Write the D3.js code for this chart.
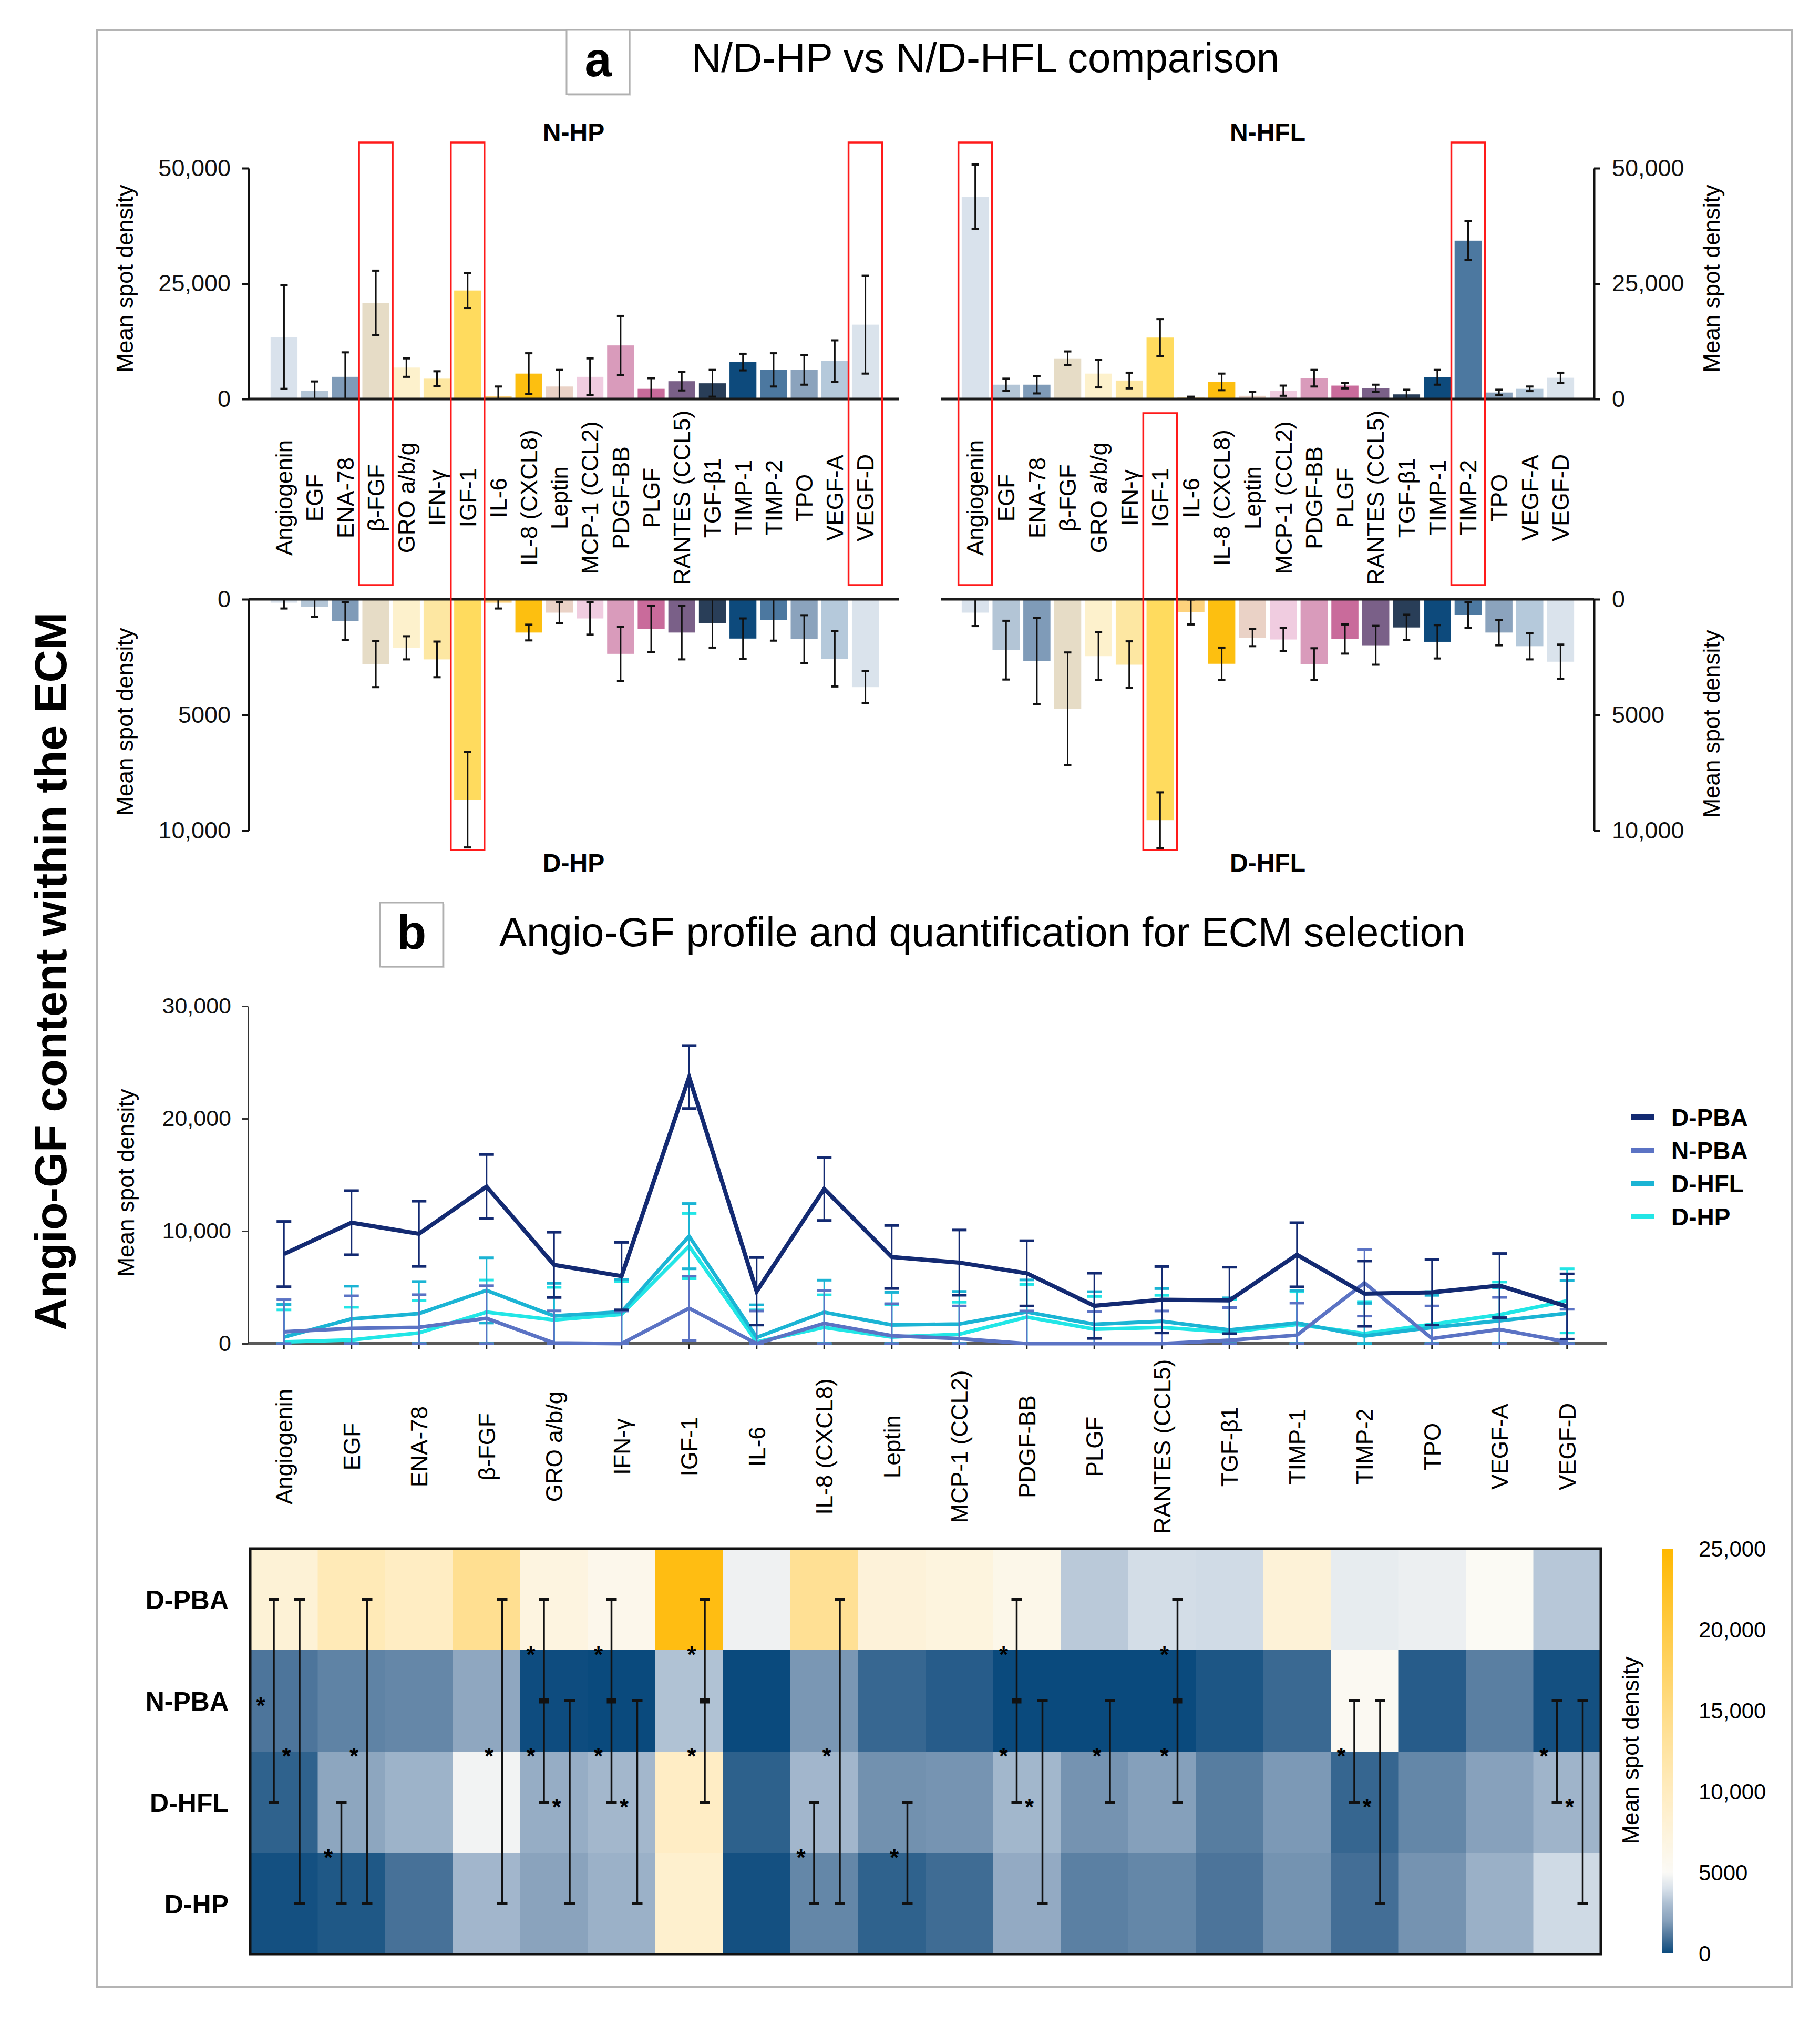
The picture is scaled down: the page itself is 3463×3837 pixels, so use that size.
<!DOCTYPE html>
<html>
<head>
<meta charset="utf-8">
<script src="https://cdn.jsdelivr.net/npm/d3@7"></script>
<style>
  body { margin: 0; background: #fff; }
  svg { display: block; }
  text { font-family: 'Liberation Sans', Arial, sans-serif; }
</style>
</head>
<body>
<div id="chart"></div>
<script>
// ---- data ----
var categories = ['Angiogenin', 'EGF', 'ENA-78', 'β-FGF', 'GRO a/b/g', 'IFN-γ', 'IGF-1', 'IL-6', 'IL-8 (CXCL8)', 'Leptin',
  'MCP-1 (CCL2)', 'PDGF-BB', 'PLGF', 'RANTES (CCL5)', 'TGF-β1', 'TIMP-1', 'TIMP-2', 'TPO', 'VEGF-A', 'VEGF-D']
var barColors = ['#d9e2ec', '#b3c5d6', '#7f9bb8', '#e6dcc6', '#fdf1cc', '#fde7a2', '#ffdb5e', '#fdd27c', '#fdbf10', '#ead2c6',
  '#f0cce0', '#d99bbb', '#c96b9b', '#7a6088', '#293e58', '#0d4a7c', '#4c78a0', '#8ba3bd', '#b5c9db', '#dae3ec']

var nHP = [13400, 1800, 4800, 20800, 6800, 4400, 23500, 600, 5500, 2700, 4800, 11600, 2200, 3850, 3400, 8000, 6300, 6300, 8200, 16100]
var nHPErr = [11200, 2000, 5300, 7000, 2000, 1600, 3800, 2100, 4400, 3600, 4000, 6400, 2300, 2000, 2900, 1800, 3600, 3200, 4500, 10600]
var nHFL = [43800, 3100, 3100, 8800, 5500, 4000, 13300, 300, 3700, 700, 1800, 4500, 2900, 2300, 1000, 4700, 34300, 1400, 2200, 4600]
var nHFLErr = [7000, 1300, 1900, 1500, 3000, 1700, 4000, 200, 1800, 800, 1100, 1800, 600, 800, 1000, 1600, 4200, 600, 500, 1100]
var dHP = [150, 330, 950, 2800, 2100, 2600, 8670, 150, 1440, 580, 830, 2360, 1290, 1440, 1030, 1700, 890, 1720, 2570, 3800]
var dHPErr = [250, 430, 820, 1000, 500, 770, 2060, 250, 340, 450, 700, 1170, 1000, 1160, 1060, 870, 900, 1030, 1200, 700]
var dHFL = [580, 2200, 2670, 4730, 2460, 2830, 9550, 550, 2790, 1660, 1740, 2810, 1720, 1990, 1220, 1840, 680, 1440, 2030, 2700]
var dHFLErr = [580, 1270, 1860, 2430, 1030, 1010, 1200, 540, 700, 370, 500, 690, 630, 840, 550, 720, 550, 550, 570, 740]

var dPBA = [7960, 10750, 9760, 13960, 7000, 6000, 23700, 4650, 13750, 7700, 7200, 6250, 3360, 3900, 3840, 7900, 4440, 4560, 5160, 3300]
var nPBA = [1050, 1350, 1450, 2250, 60, 0, 3150, 0, 1800, 700, 450, 0, 0, 0, 300, 750, 5400, 450, 1260, 150]
var dPBALineErr = [2900, 2850, 2900, 2850, 2900, 3000, 2800, 3000, 2800, 2800, 2900, 2900, 2900, 2950, 2950, 2850, 2900, 2900, 2850, 2900]
var nPBALineErr = [2850, 2900, 2900, 2900, 2850, 2900, 2850, 2900, 2900, 2850, 2900, 2900, 2850, 2900, 2900, 2850, 2950, 2900, 2850, 2900]
var dHFLLineErr = [2900, 2900, 2850, 2900, 2900, 2850, 2900, 2900, 2850, 2900, 2900, 2850, 2900, 2900, 2850, 2900, 2900, 2850, 2900, 2900]
var dHPLineErr = [2850, 2900, 2900, 2850, 2900, 2900, 2900, 2850, 2900, 2900, 2850, 2900, 2900, 2850, 2900, 2900, 2850, 2900, 2900, 2850]

var lineNames = ['D-PBA', 'N-PBA', 'D-HFL', 'D-HP']
var lineColors = ['#132a72', '#5b73c4', '#1bb4d4', '#22e6e6']

var topTicks = [0, 25000, 50000]
var topTickLabels = ['0', '25,000', '50,000']
var bottomTicks = [0, 5000, 10000]
var bottomTickLabels = ['0', '5000', '10,000']
var lineTicks = [0, 10000, 20000, 30000]
var lineTickLabels = ['0', '10,000', '20,000', '30,000']
var heatTicks = [0, 5000, 10000, 15000, 20000, 25000]
var heatTickLabels = ['0', '5000', '10,000', '15,000', '20,000', '25,000']
var heatStops = [0, 1000, 2000, 3000, 4000, 5000, 10000, 15000, 20000, 25000]
var heatStopColors = ['#0a4a7d', '#4a7399', '#86a0bb', '#a9bcd0', '#d8e1ea', '#fbfaf6', '#ffecc0', '#ffdc85', '#ffcb45', '#ffb800']

// significance brackets: column, slot, from row, to row, middle cap
var sigCol = [0, 0, 1, 1, 3, 4, 4, 5, 5, 6, 8, 8, 9, 11, 11, 12, 13, 16, 16, 19, 19]
var sigSlot = [0, 1, 0, 1, 1, 0, 1, 0, 1, 1, 0, 1, 1, 0, 1, 1, 1, 0, 1, 0, 1]
var sigFrom = [0, 0, 2, 0, 0, 0, 1, 0, 1, 0, 2, 0, 2, 0, 1, 1, 0, 1, 1, 1, 1]
var sigTo = [2, 3, 3, 3, 3, 2, 3, 2, 3, 2, 3, 3, 3, 2, 3, 2, 2, 2, 3, 2, 3]
var sigMid = [0, 0, 0, 0, 0, 1, 0, 1, 0, 1, 0, 0, 0, 1, 0, 0, 1, 0, 0, 0, 0]
// asterisks: column, slot, vertical position in row units
var starCol = [0, 0, 1, 1, 3, 4, 4, 4, 5, 5, 5, 6, 6, 8, 8, 9, 11, 11, 11, 12, 13, 13, 16, 16, 19, 19]
var starSlot = [0, 1, 0, 1, 1, 0, 0, 1, 0, 0, 1, 1, 1, 0, 1, 1, 0, 0, 1, 1, 1, 1, 0, 1, 0, 1]
var starRow = [1.5, 2, 3, 2, 2, 1, 2, 2.5, 1, 2, 2.5, 1, 2, 3, 2, 3, 1, 2, 2.5, 2, 1, 2, 2, 2.5, 2, 2.5]

// ---- page ----
var W = 3463, H = 3837
var FONT = "'Liberation Sans', Arial, sans-serif"
var svg = d3.select('#chart').append('svg').attr('width', W).attr('height', H)
svg.append('rect').attr('width', W).attr('height', H).attr('fill', '#fff')
svg.append('rect').attr('x', 184).attr('y', 57).attr('width', 3226).attr('height', 3723)
  .attr('fill', 'none').attr('stroke', '#b4b4b4').attr('stroke-width', 4)

svg.append('text').attr('transform', 'translate(126,1848) rotate(-90)')
  .attr('text-anchor', 'middle').style('font-size', '86px').style('font-weight', 'bold')
  .text('Angio-GF content within the ECM')

function sectionHead (letter, bx, by, tx, ty, label) {
  svg.append('rect').attr('x', bx + 3).attr('y', by + 3).attr('width', 120).attr('height', 122).attr('fill', '#e4e4e4')
  svg.append('rect').attr('x', bx).attr('y', by).attr('width', 120).attr('height', 122)
    .attr('fill', '#fff').attr('stroke', '#b0b0b0').attr('stroke-width', 3)
  svg.append('text').attr('x', bx + 60).attr('y', by + 88).attr('text-anchor', 'middle')
    .style('font-size', '92px').style('font-weight', 'bold').text(letter)
  svg.append('text').attr('x', tx).attr('y', ty).style('font-size', '78px').text(label)
}
sectionHead('a', 1078, 57, 1316, 137, 'N/D-HP vs N/D-HFL comparison')
sectionHead('b', 723, 1717, 950, 1800, 'Angio-GF profile and quantification for ECM selection')

function styleAxis (ag, size) {
  ag.attr('font-family', FONT).attr('font-size', size)
  ag.select('.domain').attr('stroke', '#111').attr('stroke-width', 4)
  ag.selectAll('.tick line').attr('stroke', '#111').attr('stroke-width', 4)
  ag.selectAll('.tick text').attr('fill', '#111')
}

function axisTitle (x, y, size) {
  svg.append('text').attr('transform', 'translate(' + x + ',' + y + ') rotate(-90)')
    .attr('text-anchor', 'middle').style('font-size', size + 'px').text('Mean spot density')
}

// one bar panel of part a
function barPanel (vals, errs, xr, yr, ymax, axisX, side, lineX, ticks, tickLabels, title, titleY) {
  var x = d3.scaleBand().domain(categories).range(xr).paddingInner(0.12).paddingOuter(0.1)
  var y = d3.scaleLinear().domain([0, ymax]).range(yr)
  var g = svg.append('g')
  g.selectAll('rect.bar').data(vals).enter().append('rect')
    .attr('x', function (d, i) { return x(categories[i]) })
    .attr('y', function (d) { return Math.min(y(0), y(d)) })
    .attr('width', x.bandwidth())
    .attr('height', function (d) { return Math.abs(y(d) - y(0)) })
    .attr('fill', function (d, i) { return barColors[i] })

  vals.forEach(function (v, i) {
    var cx = x(categories[i]) + x.bandwidth() / 2
    var lo = y(Math.max(0, v - errs[i])), hi = y(v + errs[i])
    g.append('line').attr('x1', cx).attr('x2', cx).attr('y1', lo).attr('y2', hi)
      .attr('stroke', '#111').attr('stroke-width', 3)
    ;[lo, hi].forEach(function (yy) {
      g.append('line').attr('x1', cx - 7).attr('x2', cx + 7).attr('y1', yy).attr('y2', yy)
        .attr('stroke', '#111').attr('stroke-width', 4)
    })
  })

  g.append('line').attr('x1', lineX[0]).attr('x2', lineX[1]).attr('y1', y(0)).attr('y2', y(0))
    .attr('stroke', '#1a1a1a').attr('stroke-width', 5)

  var axis = side === 'left' ? d3.axisLeft(y) : d3.axisRight(y)
  axis.tickValues(ticks).tickFormat(function (d, i) { return tickLabels[i] }).tickSize(12).tickSizeOuter(0).tickPadding(22)
  var ag = g.append('g').attr('transform', 'translate(' + axisX + ',0)').call(axis)
  styleAxis(ag, 45)

  svg.append('text').attr('x', (lineX[0] + lineX[1]) / 2).attr('y', titleY)
    .attr('text-anchor', 'middle').style('font-size', '48px').style('font-weight', 'bold').text(title)
  return x
}

var xL = barPanel(nHP, nHPErr, [509, 1678], [759, 320], 50000, 473, 'left', [473, 1710], topTicks, topTickLabels, 'N-HP', 268)
var xR = barPanel(nHFL, nHFLErr, [1824, 3001], [759, 320], 50000, 3033, 'right', [1791, 3033], topTicks, topTickLabels, 'N-HFL', 268)
barPanel(dHP, dHPErr, [509, 1678], [1140, 1580], 10000, 473, 'left', [473, 1710], bottomTicks, bottomTickLabels, 'D-HP', 1658)
barPanel(dHFL, dHFLErr, [1824, 3001], [1140, 1580], 10000, 3033, 'right', [1791, 3033], bottomTicks, bottomTickLabels, 'D-HFL', 1658)

axisTitle(253, 530, 44)
axisTitle(3272, 530, 44)
axisTitle(253, 1373, 44)
axisTitle(3272, 1377, 44)

function catLabels (x, cy) {
  categories.forEach(function (c) {
    var cx = x(c) + x.bandwidth() / 2
    svg.append('text').attr('transform', 'translate(' + cx + ',' + cy + ') rotate(-90)')
      .attr('text-anchor', 'middle').attr('dy', '0.36em').style('font-size', '44px').text(c)
  })
}
catLabels(xL, 947)
catLabels(xR, 947)

// red highlight boxes
function redBox (x, cat, y0, y1) {
  svg.append('rect').attr('x', x(cat) + x.bandwidth() / 2 - 32).attr('y', y0)
    .attr('width', 64).attr('height', y1 - y0)
    .attr('fill', 'none').attr('stroke', '#ff1a1a').attr('stroke-width', 3.5)
}
redBox(xL, 'β-FGF', 271, 1113)
redBox(xL, 'IGF-1', 271, 1617)
redBox(xL, 'VEGF-D', 271, 1113)
redBox(xR, 'Angiogenin', 271, 1113)
redBox(xR, 'TIMP-2', 271, 1113)
redBox(xR, 'IGF-1', 786, 1617)

// ---- part b: line chart ----
var xl = d3.scaleBand().domain(categories).range([476, 3046])
var yl = d3.scaleLinear().domain([0, 30000]).range([2556, 1914])
var cxl = function (i) { return xl(categories[i]) + xl.bandwidth() / 2 }

svg.append('line').attr('x1', 472).attr('x2', 3057).attr('y1', yl(0)).attr('y2', yl(0))
  .attr('stroke', '#5a5a5a').attr('stroke-width', 6)
categories.forEach(function (c, i) {
  svg.append('line').attr('x1', cxl(i)).attr('x2', cxl(i)).attr('y1', yl(0)).attr('y2', yl(0) + 10)
    .attr('stroke', '#222').attr('stroke-width', 3)
})
var lag = svg.append('g').attr('transform', 'translate(472,0)')
  .call(d3.axisLeft(yl).tickValues(lineTicks).tickFormat(function (d, i) { return lineTickLabels[i] })
    .tickSize(12).tickSizeOuter(0).tickPadding(20))
styleAxis(lag, 43)
lag.select('.domain').attr('stroke', '#333').attr('stroke-width', 3)
lag.selectAll('.tick line').attr('stroke', '#333').attr('stroke-width', 3)
axisTitle(255, 2250, 44)

var lineVals = [dPBA, nPBA, dHFL, dHP]
var lineErrs = [dPBALineErr, nPBALineErr, dHFLLineErr, dHPLineErr]
var line = d3.line().x(function (d, i) { return cxl(i) }).y(function (d) { return yl(d) })

;[3, 2, 1, 0].forEach(function (s) {
  var g = svg.append('g')
  lineVals[s].forEach(function (v, i) {
    var lo = yl(Math.max(0, v - lineErrs[s][i])), hi = yl(v + lineErrs[s][i])
    g.append('line').attr('x1', cxl(i)).attr('x2', cxl(i)).attr('y1', lo).attr('y2', hi)
      .attr('stroke', lineColors[s]).attr('stroke-width', 3)
    ;[lo, hi].forEach(function (yy) {
      g.append('line').attr('x1', cxl(i) - 14).attr('x2', cxl(i) + 14).attr('y1', yy).attr('y2', yy)
        .attr('stroke', lineColors[s]).attr('stroke-width', 5)
    })
  })
  g.append('path').datum(lineVals[s]).attr('d', line)
    .attr('fill', 'none').attr('stroke', lineColors[s]).attr('stroke-width', s === 0 ? 8 : 7)
    .attr('stroke-linejoin', 'miter')
})

lineNames.forEach(function (n, i) {
  var ly = 2125 + i * 63
  svg.append('line').attr('x1', 3103).attr('x2', 3148).attr('y1', ly).attr('y2', ly)
    .attr('stroke', lineColors[i]).attr('stroke-width', 10)
  svg.append('text').attr('x', 3180).attr('y', ly).attr('dy', '0.36em')
    .style('font-size', '46px').style('font-weight', 'bold').text(n)
})

catLabels(xl, 2752)

// ---- heatmap ----
var heatRows = ['D-PBA', 'N-PBA', 'D-HFL', 'D-HP']
var heatVals = [dPBA, nPBA, dHFL, dHP]
var yh = d3.scaleBand().domain(heatRows).range([2946, 3718])
var color = d3.scaleLinear().domain(heatStops).range(heatStopColors).clamp(true)

heatRows.forEach(function (r, ri) {
  svg.append('g').selectAll('rect').data(heatVals[ri]).enter().append('rect')
    .attr('x', function (d, i) { return xl(categories[i]) })
    .attr('y', yh(r))
    .attr('width', xl.bandwidth() + 0.5)
    .attr('height', yh.bandwidth() + 0.5)
    .attr('fill', function (d) { return color(d) })
  svg.append('text').attr('x', 435).attr('y', yh(r) + yh.bandwidth() / 2).attr('dy', '0.36em')
    .attr('text-anchor', 'end').style('font-size', '50px').style('font-weight', 'bold').text(r)
})
svg.append('rect').attr('x', 476).attr('y', 2946).attr('width', 3046 - 476).attr('height', 3718 - 2946)
  .attr('fill', 'none').attr('stroke', '#111').attr('stroke-width', 5)

var slotOff = [45, 94]
var rowMid = function (ri) { return yh(heatRows[ri]) + yh.bandwidth() / 2 }
sigCol.forEach(function (c, k) {
  var bx = xl(categories[c]) + slotOff[sigSlot[k]]
  var y0 = rowMid(sigFrom[k]), y1 = rowMid(sigTo[k])
  svg.append('line').attr('x1', bx).attr('x2', bx).attr('y1', y0).attr('y2', y1)
    .attr('stroke', '#111').attr('stroke-width', 3.5)
  ;[y0, y1].forEach(function (yy) {
    svg.append('line').attr('x1', bx - 10).attr('x2', bx + 10).attr('y1', yy).attr('y2', yy)
      .attr('stroke', '#111').attr('stroke-width', 5)
  })
  if (sigMid[k]) {
    svg.append('rect').attr('x', bx - 9).attr('y', rowMid(1) - 5).attr('width', 18).attr('height', 10).attr('fill', '#111')
  }
})
starCol.forEach(function (c, k) {
  var sx = xl(categories[c]) + slotOff[starSlot[k]] - 25
  var sy = 2946 + starRow[k] * yh.bandwidth()
  svg.append('text').attr('x', sx).attr('y', sy).attr('dy', '0.55em')
    .attr('text-anchor', 'middle').style('font-size', '44px').style('font-weight', 'bold').text('*')
})

// colour bar
var cb = d3.scaleLinear().domain([0, 25000]).range([3716, 2946])
var grad = svg.append('defs').append('linearGradient').attr('id', 'cbgrad')
  .attr('x1', 0).attr('y1', 1).attr('x2', 0).attr('y2', 0)
heatStops.forEach(function (s, i) {
  grad.append('stop').attr('offset', s / 25000).attr('stop-color', heatStopColors[i])
})
svg.append('rect').attr('x', 3162).attr('y', 2946).attr('width', 22).attr('height', 770).attr('fill', 'url(#cbgrad)')
heatTicks.forEach(function (t, i) {
  svg.append('text').attr('x', 3232).attr('y', cb(t)).attr('dy', '0.36em').style('font-size', '42px').text(heatTickLabels[i])
})
axisTitle(3118, 3330, 44)
</script>
</body>
</html>
